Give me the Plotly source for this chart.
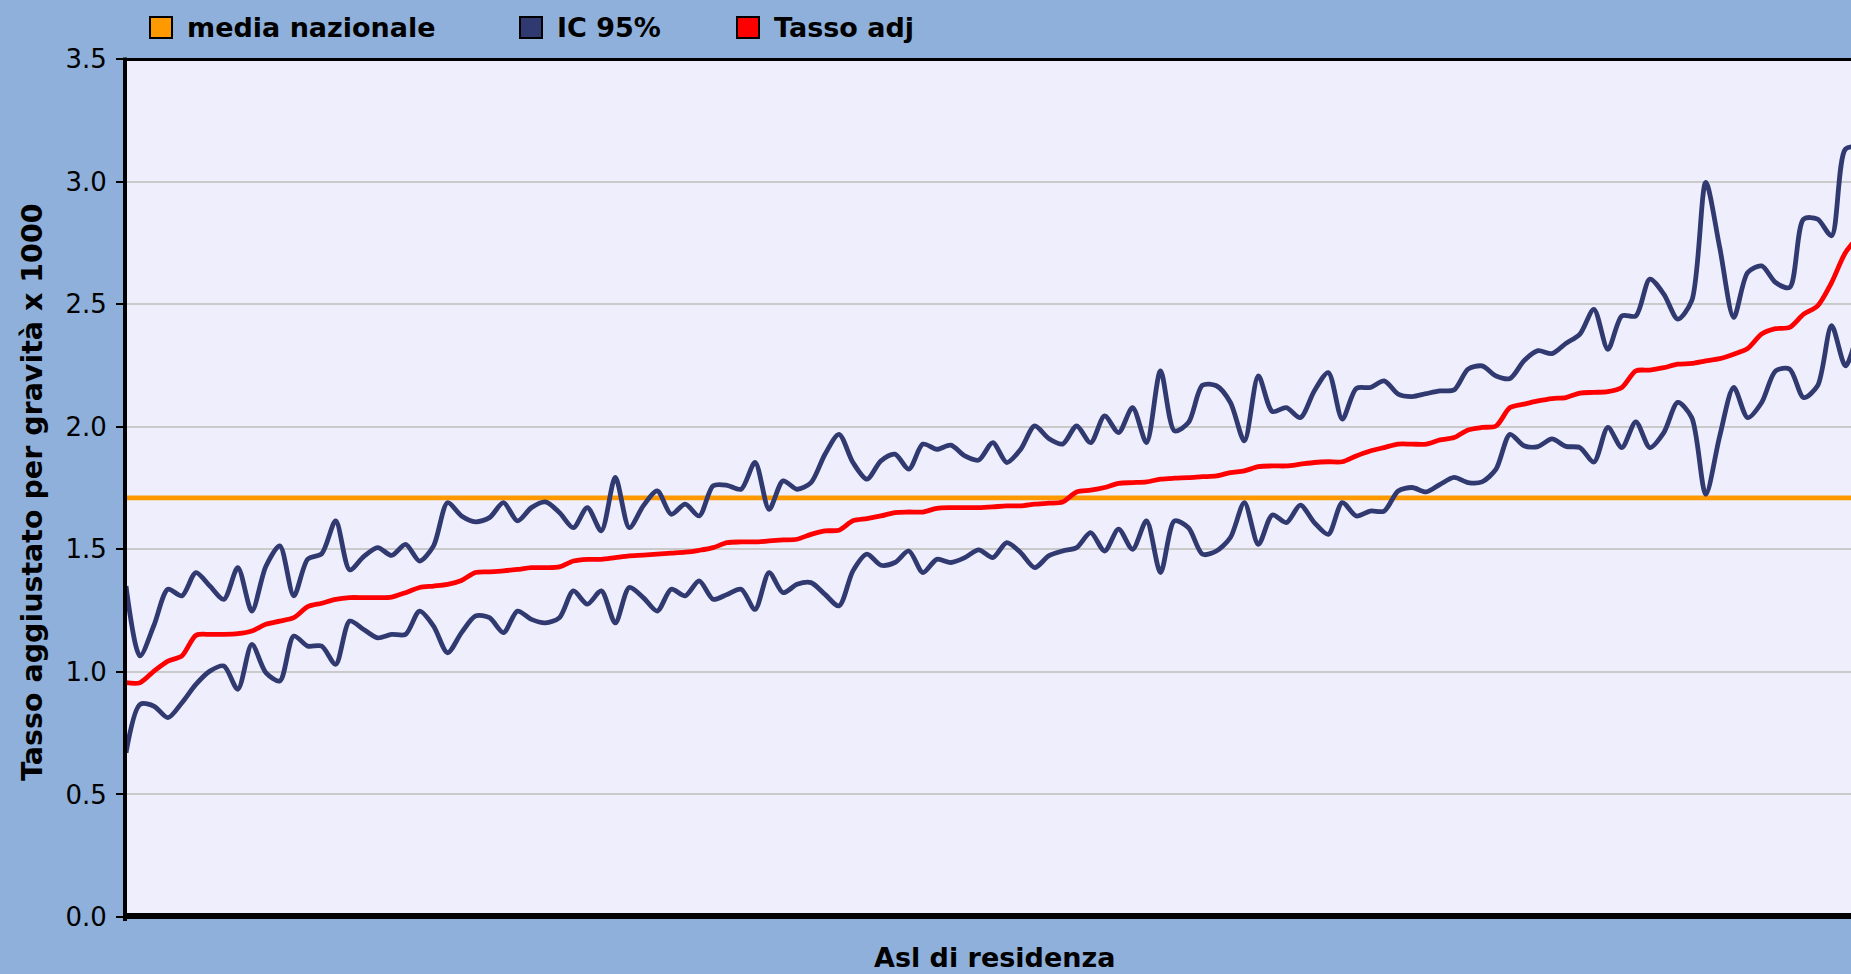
import plotly.graph_objects as go

# Asl di residenza, ordered by adjusted rate
asl = list(range(125))

tasso_adj = [
    0.956, 0.956, 1.003, 1.044, 1.065, 1.149, 1.153, 1.153, 1.156, 1.167,
    1.194, 1.207, 1.221, 1.266, 1.280, 1.296, 1.303, 1.303, 1.303, 1.305,
    1.323, 1.344, 1.350, 1.357, 1.373, 1.405, 1.408, 1.412, 1.418, 1.425,
    1.425, 1.428, 1.452, 1.459, 1.459, 1.466, 1.473, 1.476, 1.480, 1.484,
    1.488, 1.496, 1.507, 1.527, 1.530, 1.530, 1.534, 1.538, 1.541, 1.561,
    1.575, 1.578, 1.616, 1.625, 1.636, 1.650, 1.652, 1.652, 1.667, 1.670,
    1.670, 1.670, 1.673, 1.677, 1.677, 1.684, 1.688, 1.693, 1.734, 1.741,
    1.752, 1.769, 1.772, 1.775, 1.786, 1.790, 1.792, 1.796, 1.799, 1.813,
    1.820, 1.837, 1.840, 1.840, 1.847, 1.854, 1.857, 1.857, 1.881, 1.901,
    1.915, 1.929, 1.929, 1.929, 1.946, 1.956, 1.987, 1.997, 2.003, 2.078,
    2.092, 2.105, 2.115, 2.119, 2.137, 2.140, 2.143, 2.160, 2.228, 2.231,
    2.241, 2.255, 2.258, 2.269, 2.278, 2.296, 2.319, 2.378, 2.400, 2.405,
    2.459, 2.493, 2.588, 2.711, 2.780,
]

ic_sup = [
    1.350, 1.065, 1.190, 1.337, 1.310, 1.405, 1.350, 1.296, 1.425, 1.248,
    1.430, 1.514, 1.310, 1.460, 1.482, 1.616, 1.416, 1.470, 1.507, 1.475,
    1.520, 1.452, 1.514, 1.690, 1.636, 1.612, 1.629, 1.690, 1.616, 1.670,
    1.693, 1.650, 1.588, 1.670, 1.575, 1.793, 1.588, 1.677, 1.738, 1.643,
    1.684, 1.636, 1.759, 1.761, 1.745, 1.854, 1.663, 1.779, 1.745, 1.772,
    1.888, 1.969, 1.854, 1.786, 1.861, 1.888, 1.827, 1.929, 1.908, 1.925,
    1.881, 1.864, 1.935, 1.854, 1.908, 2.003, 1.952, 1.929, 2.003, 1.935,
    2.044, 1.976, 2.078, 1.935, 2.228, 1.983, 2.017, 2.169, 2.167, 2.099,
    1.942, 2.207, 2.062, 2.078, 2.037, 2.146, 2.221, 2.031, 2.156, 2.160,
    2.187, 2.133, 2.123, 2.135, 2.146, 2.150, 2.235, 2.248, 2.207, 2.197,
    2.269, 2.310, 2.298, 2.340, 2.378, 2.479, 2.316, 2.452, 2.452, 2.602,
    2.541, 2.439, 2.514, 2.997, 2.731, 2.446, 2.629, 2.656, 2.588, 2.568,
    2.847, 2.847, 2.779, 3.133, 3.140,
]

ic_inf = [
    0.670, 0.867, 0.860, 0.813, 0.874, 0.949, 1.003, 1.024, 0.929, 1.112,
    0.997, 0.963, 1.146, 1.105, 1.105, 1.031, 1.207, 1.173, 1.139, 1.153,
    1.153, 1.248, 1.187, 1.078, 1.160, 1.228, 1.221, 1.160, 1.248, 1.214,
    1.200, 1.221, 1.330, 1.276, 1.330, 1.200, 1.344, 1.303, 1.248, 1.337,
    1.310, 1.371, 1.296, 1.316, 1.337, 1.255, 1.405, 1.323, 1.357, 1.364,
    1.316, 1.269, 1.412, 1.480, 1.435, 1.446, 1.493, 1.405, 1.459, 1.446,
    1.466, 1.498, 1.466, 1.527, 1.486, 1.425, 1.473, 1.493, 1.507, 1.568,
    1.493, 1.582, 1.500, 1.616, 1.405, 1.616, 1.588, 1.480, 1.493, 1.548,
    1.690, 1.520, 1.640, 1.609, 1.680, 1.609, 1.561, 1.690, 1.636, 1.656,
    1.656, 1.738, 1.752, 1.734, 1.765, 1.793, 1.772, 1.775, 1.827, 1.969,
    1.922, 1.919, 1.950, 1.920, 1.915, 1.856, 1.997, 1.915, 2.020, 1.915,
    1.976, 2.099, 2.037, 1.724, 1.962, 2.160, 2.037, 2.099, 2.228, 2.235,
    2.119, 2.167, 2.412, 2.248, 2.420,
]

media_nazionale = 1.71

y_ticks = [0.0, 0.5, 1.0, 1.5, 2.0, 2.5, 3.0, 3.5]

# palette
OUTER_BG = "#8FB0DA"
PLOT_BG = "#EEEEFD"
NAVY = "#313A70"
RED = "#FF0000"
ORANGE = "#FF9900"
GRID = "#CACACA"
FONT = "DejaVu Sans"

# page geometry (pixels)
W, H = 1851, 974
ML, MR, MT, MB = 126, 0, 59, 57
PW, PH = W - ML - MR, H - MT - MB
STEP = 13.98  # horizontal pixels between consecutive Asl
LW = 4.8


def px(x):
    return (x - ML) / PW


def py(y):
    return (H - MB - y) / PH


fig = go.Figure()

fig.add_trace(go.Scatter(
    x=asl, y=[media_nazionale] * len(asl), mode="lines",
    line=dict(color=ORANGE, width=LW), name="media nazionale",
    hoverinfo="skip",
))
fig.add_trace(go.Scatter(
    x=asl, y=ic_sup, mode="lines",
    line=dict(color=NAVY, width=LW, shape="spline", smoothing=0.8),
    name="IC 95%",
))
fig.add_trace(go.Scatter(
    x=asl, y=ic_inf, mode="lines",
    line=dict(color=NAVY, width=LW, shape="spline", smoothing=0.8),
    name="IC 95% inf", showlegend=False,
))
fig.add_trace(go.Scatter(
    x=asl, y=tasso_adj, mode="lines",
    line=dict(color=RED, width=LW, shape="spline", smoothing=0.8),
    name="Tasso adj",
))

shapes = [
    # frame: left axis, bottom axis, top border
    dict(type="line", xref="paper", yref="paper", x0=px(125), x1=px(125),
         y0=py(921), y1=py(57.5), line=dict(color="black", width=4)),
    dict(type="line", xref="paper", yref="paper", x0=px(123), x1=1.0,
         y0=py(916), y1=py(916), line=dict(color="black", width=6)),
    dict(type="line", xref="paper", yref="paper", x0=px(123), x1=1.0,
         y0=py(59.5), y1=py(59.5), line=dict(color="black", width=3)),
]

annotations = []
legend_items = [("media nazionale", ORANGE, 150), ("IC 95%", NAVY, 520), ("Tasso adj", RED, 737)]
for label, color, x0 in legend_items:
    shapes.append(dict(type="rect", xref="paper", yref="paper",
                       x0=px(x0), x1=px(x0 + 22), y0=py(38), y1=py(17),
                       fillcolor=color, line=dict(color="black", width=2)))
    annotations.append(dict(text=f"<b>{label}</b>", xref="paper", yref="paper",
                            x=px(x0 + 35), y=py(28), xanchor="left", yanchor="middle",
                            showarrow=False, font=dict(family=FONT, size=27, color="black")))

annotations.append(dict(text="<b>Tasso aggiustato per gravità x 1000</b>", xref="paper", yref="paper",
                        x=px(32), y=py(492), textangle=-90, xanchor="center", yanchor="middle",
                        showarrow=False, font=dict(family=FONT, size=28.5, color="black")))
annotations.append(dict(text="<b>Asl di residenza</b>", xref="paper", yref="paper",
                        x=px(994), y=py(957), xanchor="center", yanchor="middle",
                        showarrow=False, font=dict(family=FONT, size=27, color="black")))

fig.update_layout(
    width=W, height=H, autosize=False,
    margin=dict(l=ML, r=MR, t=MT, b=MB, pad=0),
    paper_bgcolor=OUTER_BG, plot_bgcolor=PLOT_BG,
    showlegend=False,
    shapes=shapes, annotations=annotations,
    xaxis=dict(range=[0, PW / STEP], showgrid=False, zeroline=False,
               showticklabels=False, ticks="", showline=False),
    yaxis=dict(range=[0, 3.5], tickvals=y_ticks, ticktext=[f"{v:.1f}" for v in y_ticks],
               showgrid=True, gridcolor=GRID, gridwidth=2, zeroline=False,
               ticks="outside", ticklen=9, tickwidth=2, tickcolor="black",
               ticklabelstandoff=4, showline=False,
               tickfont=dict(family=FONT, size=26, color="black")),
)

fig.write_html("out.html")
